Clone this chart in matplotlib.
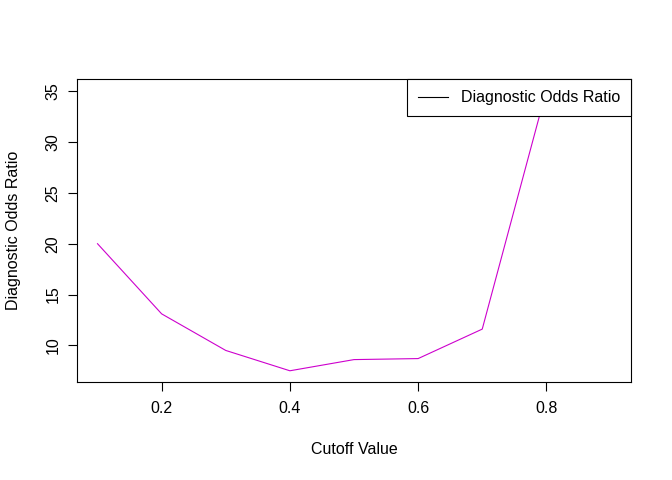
import numpy as np
import matplotlib
matplotlib.use("Agg")
import matplotlib.pyplot as plt

# cutoff values and the diagnostic odds ratio
cutoff = [0.1, 0.2, 0.3, 0.4, 0.5, 0.6, 0.7, 0.8, 0.9]
dor = [20.0, 13.1, 9.5, 7.5, 8.6, 8.7, 11.6, 35.1, np.nan]
x_ticks = [0.2, 0.4, 0.6, 0.8]
y_ticks = [10, 15, 20, 25, 30, 35]

plt.rcParams['font.family'] = ['Liberation Sans', 'DejaVu Sans']
fs = 11.5

fig = plt.figure(figsize=(6.72, 4.8), dpi=100)
ax = fig.add_axes([77 / 672, 1 - 382 / 480, 554 / 672, 303 / 480])

ax.plot(cutoff, dor, color='#CD00CD', lw=0.8, label='Diagnostic Odds Ratio')

# R style 4% padding on both axes
x = np.array(cutoff)
y = np.array(dor)
y = y[np.isfinite(y)]
xr = x.max() - x.min()
yr = y.max() - y.min()
ax.set_xlim(x.min() - 0.04 * xr, x.max() + 0.04 * xr)
ax.set_ylim(y.min() - 0.04 * yr, y.max() + 0.04 * yr)

ax.set_xticks(x_ticks)
ax.set_xticklabels([str(t) for t in x_ticks])
ax.set_yticks(y_ticks)
ax.set_yticklabels([str(t) for t in y_ticks], rotation=90, va='center')
ax.tick_params(direction='out', length=6.5, width=0.8, labelsize=fs, color='black')
ax.tick_params(axis='x', pad=7)
ax.tick_params(axis='y', pad=5.5)
for s in ax.spines.values():
    s.set_linewidth(0.8)
    s.set_color('black')

ax.set_xlabel('Cutoff Value', fontsize=fs)
ax.set_ylabel('Diagnostic Odds Ratio', fontsize=fs)
ax.xaxis.label.set_va('center')
ax.yaxis.label.set_va('center')
ax.xaxis.set_label_coords(0.5, (382 - 450) / 303)
ax.yaxis.set_label_coords((14 - 77) / 554, 0.5)

leg = ax.legend(loc='upper right', borderaxespad=0, fancybox=False,
                edgecolor='black', framealpha=1, fontsize=fs,
                handlelength=1.85, handletextpad=0.8, borderpad=0.7)
leg.get_frame().set_linewidth(0.8)
leg.legend_handles[0].set_color('black')

fig.savefig('out.png', dpi=100)
